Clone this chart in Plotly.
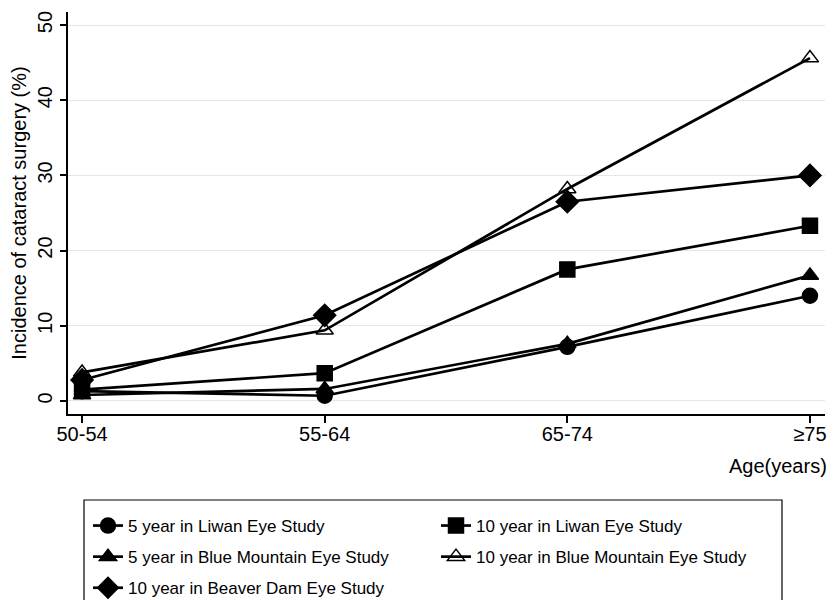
import plotly.graph_objects as go

categories = ["50-54", "55-64", "65-74", "≥75"]

liwan_5yr = [1.3, 0.7, 7.2, 14.0]
bmes_5yr = [0.8, 1.6, 7.6, 16.7]
beaver_10yr = [2.8, 11.4, 26.5, 30.0]
liwan_10yr = [1.5, 3.7, 17.5, 23.3]
bmes_10yr = [3.8, 9.4, 28.2, 45.6]

y_ticks = [0, 10, 20, 30, 40, 50]

series = [
    ("5 year in Liwan Eye Study", liwan_5yr, "circle", "legend"),
    ("5 year in Blue Mountain Eye Study", bmes_5yr, "triangle-up", "legend"),
    ("10 year in Beaver Dam Eye Study", beaver_10yr, "diamond", "legend"),
    ("10 year in Liwan Eye Study", liwan_10yr, "square", "legend2"),
    ("10 year in Blue Mountain Eye Study", bmes_10yr, "triangle-up-open", "legend2"),
]

# page body has an 8px margin; work in page coordinates and shift
OFF = 8
W, H = 837 - OFF, 600 - OFF
PL, PR, PT, PB = 68, 825, 12, 414  # plot area in page px
L, R, T, B = PL - OFF, W - (PR - OFF), PT - OFF, H - (PB - OFF)
PW, PH = W - L - R, H - T - B


def px(xp):
    return (xp - OFF - L) / PW


def py(yp):
    return (H - B - (yp - OFF)) / PH


fig = go.Figure()
for i, (name, vals, sym, lg) in enumerate(series):
    fig.add_trace(go.Scatter(
        x=categories, y=vals, name=name, mode="lines+markers",
        legend=lg, legendgroup=f"g{i}",
        line=dict(color="black", width=2.7),
        marker=dict(symbol=sym, size=15 if sym != "diamond" else 17, color="black",
                    line=dict(color="black", width=1.5)),
    ))

# invisible trace on an overlay x-axis that only carries the tick marks
fig.add_trace(go.Scatter(x=categories, y=[None] * len(categories), xaxis="x2",
                         showlegend=False, hoverinfo="skip"))

legend_common = dict(
    orientation="v", xanchor="left", yanchor="top",
    itemwidth=30, tracegroupgap=6,
    font=dict(size=17, family="Liberation Sans, Arial, sans-serif"),
    bgcolor="rgba(0,0,0,0)", borderwidth=0, traceorder="grouped",
)

xcommon = dict(
    type="category", categoryorder="array", categoryarray=categories,
    range=[-0.058, 3.062], showgrid=False, zeroline=False,
)

fig.update_layout(
    width=W, height=H,
    margin=dict(l=L, r=R, t=T, b=B, autoexpand=False),
    paper_bgcolor="white", plot_bgcolor="white",
    font=dict(family="Liberation Sans, Arial, sans-serif", color="black", size=20),
    showlegend=True,
    legend=dict(x=px(88), y=py(508), **legend_common),
    legend2=dict(x=px(436), y=py(508), **legend_common),
    xaxis=dict(
        showline=True, linecolor="black", linewidth=1.5,
        ticks="outside", ticklen=1, tickwidth=0.1, tickcolor="rgba(0,0,0,0)",
        tickfont=dict(size=20), **xcommon,
    ),
    xaxis2=dict(
        overlaying="x", side="bottom", showline=False, showticklabels=False,
        ticks="outside", ticklen=8, tickwidth=1.5, tickcolor="black", **xcommon,
    ),
    yaxis=dict(
        range=[-1.73, 51.73],
        tickvals=y_ticks, ticktext=[str(v) for v in y_ticks],
        tickangle=-90,
        showline=True, linecolor="black", linewidth=1.5,
        ticks="outside", ticklen=6, tickwidth=1.5, tickcolor="black",
        showgrid=True, gridcolor="#e6e6e6", gridwidth=1.2,
        zeroline=False,
        tickfont=dict(size=20),
        title=dict(text="Incidence of cataract surgery (%)", font=dict(size=20), standoff=2),
    ),
    annotations=[dict(
        text="Age(years)", xref="paper", yref="paper",
        x=px(829), y=py(466),
        xanchor="right", yanchor="middle", showarrow=False, font=dict(size=20),
    )],
    shapes=[dict(
        type="rect", xref="paper", yref="paper",
        x0=px(84), x1=px(782), y0=py(500), y1=py(610),
        line=dict(color="black", width=1.2),
    )],
)

fig.write_html("out.html")
